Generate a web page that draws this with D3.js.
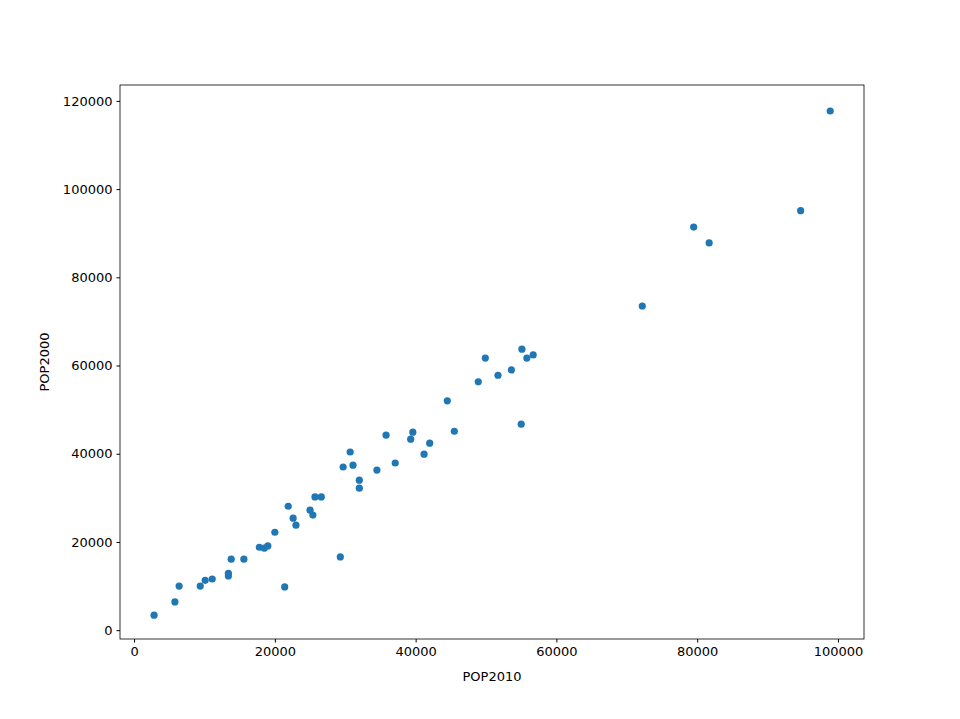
<!DOCTYPE html>
<html><head><meta charset="utf-8">
<script src="https://cdn.jsdelivr.net/npm/d3@7"></script>
<style>body{margin:0;background:#fff}text{font-family:"DejaVu Sans",sans-serif}</style>
</head><body><svg id="c" width="960" height="719"></svg>
<script>
const pop2010 = [2840,5800,6400,9400,10100,11100,13400,13400,13800,15600,17800,18500,19000,20000,21400,21900,22600,23000,25000,25400,25700,26600,29300,29700,30700,31100,32000,32000,34500,35800,37100,39300,39600,41200,42000,44500,45500,48900,49900,51700,53600,55000,55100,55800,56700,72200,79500,81700,94700,98900];
const pop2000 = [3400,6400,10000,10000,11300,11600,12900,12300,16100,16100,18800,18600,19100,22200,9800,28100,25400,23800,27200,26100,30200,30200,16600,37000,40400,37400,34000,32200,36300,44200,37900,43300,44900,39900,42400,52000,45100,56300,61700,57800,59000,46700,63700,61700,62400,73500,91400,87800,95100,117700];
const xTicks = [0,20000,40000,60000,80000,100000];
const yTicks = [0,20000,40000,60000,80000,100000,120000];
const svg = d3.select("#c");
const L=120,T=85,W=744,H=554;
const x = d3.scaleLinear().domain([-2000,103700]).range([L,L+W]);
const y = d3.scaleLinear().domain([-2000,123600]).range([T+H,T]);
const gx = svg.append("g").attr("transform",`translate(0,${T+H})`).call(d3.axisBottom(x).tickValues(xTicks).tickFormat(d3.format("d")).tickSizeOuter(0).tickSize(3.5).tickPadding(4));
const gy = svg.append("g").attr("transform",`translate(${L},0)`).call(d3.axisLeft(y).tickValues(yTicks).tickFormat(d3.format("d")).tickSizeOuter(0).tickSize(3.5).tickPadding(4));
[gx,gy].forEach(g=>{g.select(".domain").remove();g.selectAll("text").attr("font-size",13).attr("fill","#000").attr("font-family","DejaVu Sans");g.selectAll("line").attr("stroke","#000");});
svg.append("rect").attr("x",L).attr("y",T).attr("width",W).attr("height",H).attr("fill","none").attr("stroke","#000").attr("stroke-width",0.8);
svg.append("g").selectAll("circle").data(pop2010).join("circle")
 .attr("cx",d=>x(d)).attr("cy",(d,i)=>y(pop2000[i])).attr("r",3.6).attr("fill","#1f77b4");
svg.append("text").attr("x",L+W/2).attr("y",681).attr("text-anchor","middle").attr("font-size",13).text("POP2010");
svg.append("text").attr("transform",`translate(49,${T+H/2}) rotate(-90)`).attr("text-anchor","middle").attr("font-size",13).text("POP2000");
</script></body></html>
